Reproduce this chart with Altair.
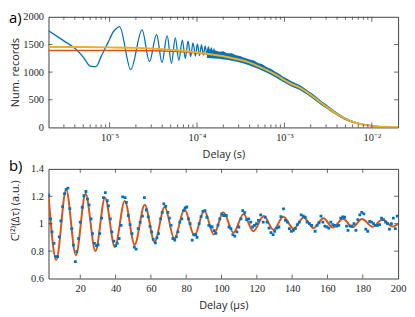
import altair as alt
import pandas as pd

# ---------------- panel a : raw records vs delay (log axis) ----------------
blue_t = [2e-6, 3e-6, 4e-6, 5e-6, 6e-6, 7e-6, 8e-6, 9e-6, 10e-6, 11e-6, 12e-6, 13e-6,
          17.5e-6, 23.5e-6, 28.6e-6, 34.5e-6, 39.8e-6, 45.5e-6, 51e-6, 56.5e-6, 62e-6,
          68e-6, 73.5e-6, 79e-6, 84.6e-6, 90e-6, 96e-6, 101e-6, 107e-6, 112.5e-6,
          118e-6, 124e-6, 130e-6, 135e-6, 141e-6, 146e-6, 152e-6, 157e-6]
blue_v = [1751, 1565, 1430, 1270, 1110, 1100, 1280, 1447, 1593, 1727, 1790, 1822,
          1045, 1765, 1190, 1680, 1170, 1660, 1160, 1620, 1210,
          1580, 1250, 1560, 1280, 1530, 1290, 1510, 1300, 1490,
          1310, 1470, 1320, 1455, 1325, 1440, 1330, 1425]

band_t = [1.3e-4, 1.45e-4, 1.6e-4, 1.8e-4, 2.0e-4, 2.2e-4, 2.5e-4, 2.8e-4, 3.1e-4, 3.5e-4,
          4.0e-4, 4.5e-4, 5.0e-4, 5.6e-4, 6.3e-4, 7.0e-4, 7.8e-4, 8.7e-4, 9.7e-4, 1.08e-3,
          1.2e-3, 1.35e-3, 1.5e-3, 1.7e-3, 1.9e-3, 2.1e-3, 2.4e-3, 2.7e-3, 3.0e-3, 3.4e-3,
          3.8e-3, 4.3e-3, 4.9e-3, 5.6e-3, 6.5e-3, 7.5e-3, 8.8e-3, 1.05e-2, 1.3e-2, 1.65e-2, 2.0e-2]
band_hi = [1420, 1400, 1395, 1370, 1375, 1340, 1340, 1305, 1290, 1260,
           1230, 1210, 1165, 1140, 1090, 1060, 1010, 970, 918, 880,
           835, 800, 765, 710, 655, 608, 535, 470, 418, 352,
           298, 240, 186, 140, 104, 76, 53, 37, 22, 14, 10]
band_lo = [1255, 1250, 1245, 1240, 1230, 1222, 1205, 1190, 1172, 1150,
           1120, 1090, 1062, 1025, 990, 950, 912, 868, 820, 780,
           740, 708, 675, 622, 572, 525, 455, 393, 345, 285,
           236, 183, 136, 98, 66, 45, 28, 16, 6, 1, 0]

fit_t = [2e-6, 5e-6, 1e-5, 2e-5, 4e-5, 7e-5, 1e-4, 1.5e-4, 2.29e-4, 3e-4, 4e-4, 5.46e-4,
         7e-4, 8.4e-4, 1e-3, 1.2e-3, 1.48e-3, 1.77e-3, 2.2e-3, 2.72e-3, 3.3e-3, 4.2e-3,
         5.2e-3, 6.5e-3, 8e-3, 1e-2, 1.4e-2, 2e-2]
fit_v = [1455, 1452, 1447, 1438, 1415, 1385, 1355, 1318, 1270, 1228, 1172, 1080,
         1000, 932, 855, 785, 724, 647, 540, 427, 330, 220,
         140, 84, 50, 28, 11, 4]

fit2_t = [2e-6, 1e-5, 3e-5, 6e-5, 1e-4, 1.5e-4, 2.29e-4, 3e-4]
fit2_v = [1392, 1390, 1386, 1372, 1348, 1318, 1270, 1228]

xa_major = [1e-5, 1e-4, 1e-3, 1e-2]
xa_minor = [3e-6, 4e-6, 5e-6, 6e-6, 7e-6, 8e-6, 9e-6,
            2e-5, 3e-5, 4e-5, 5e-5, 6e-5, 7e-5, 8e-5, 9e-5,
            2e-4, 3e-4, 4e-4, 5e-4, 6e-4, 7e-4, 8e-4, 9e-4,
            2e-3, 3e-3, 4e-3, 5e-3, 6e-3, 7e-3, 8e-3, 9e-3]
ya_ticks = [0, 500, 1000, 1500, 2000]

# ---------------- panel b : normalised correlation vs delay ----------------
pts_t = [2.1, 3.1, 4.0, 5.1, 6.2, 7.2, 8.1, 9.0, 10.0, 11.1, 12.0, 13.0, 14.1, 15.2, 16.1,
         17.2, 18.0, 19.1, 20.0, 21.1, 22.1, 23.2, 24.1, 25.0, 26.1, 26.9, 28.0, 29.2, 30.1,
         31.0, 32.1, 33.1, 34.2, 35.3, 36.0, 37.0, 37.9, 39.0, 40.0, 40.9, 42.0, 43.1, 44.0,
         45.4, 46.1, 47.2, 48.2, 49.3, 50.6, 51.6, 52.8, 53.9, 55.2, 56.3, 57.4, 58.5, 59.5,
         60.4, 61.3, 62.5, 63.4, 64.3, 65.5, 66.4, 67.3, 68.4, 69.6, 70.5, 71.4, 72.5, 73.5,
         74.4, 75.3, 76.4, 77.5, 78.5, 79.4, 80.3, 81.3, 82.2, 83.4, 84.3, 85.4, 86.1, 87.3,
         88.4, 89.5, 90.6, 91.7, 92.8, 93.7, 94.7, 95.8, 96.8, 98.0, 99.0, 100.1, 101.2,
         102.7, 104.2, 105.3, 106.4, 107.5, 108.7, 109.8, 111.0, 112.0, 113.1, 114.2, 115.4,
         116.5, 117.6, 118.7, 119.8, 120.9, 122.2, 123.6, 124.7, 125.8, 126.9, 128.0, 129.2,
         130.1, 131.4, 132.5, 133.6, 135.1, 136.2, 137.3, 138.4, 139.6, 140.7, 141.8, 142.9,
         144.0, 145.1, 146.3, 147.4, 148.5, 149.8, 151.1, 153.0, 154.1, 155.2, 156.3, 157.4,
         158.5, 159.7, 160.8, 161.9, 163.0, 164.1, 165.3, 166.4, 167.5, 168.6, 169.7, 170.8,
         171.6, 172.7, 173.9, 175.0, 176.1, 177.2, 178.3, 179.4, 180.6, 181.7, 182.8, 183.9,
         185.0, 186.1, 187.3, 188.4, 189.5, 190.6, 191.7, 192.9, 194.0, 195.1, 196.2, 197.3,
         198.4, 199.5]
pts_v = [1.21, 1.036, 0.94, 0.856, 0.76, 0.76, 0.904, 1.02, 1.125, 1.22, 1.25, 1.26, 1.11, 0.964, 0.844,
         0.724, 0.796, 0.892, 1.012, 1.12, 1.204, 1.235, 1.18, 1.137, 1.036, 0.928, 0.856, 0.84, 0.845,
         0.928, 1.04, 1.19, 1.227, 1.168, 1.13, 1.036, 0.94, 0.873, 0.84, 0.856, 0.892, 0.988, 1.196,
         1.19, 1.155, 1.06, 0.993, 0.928, 0.83, 0.815, 0.964, 1.01, 1.055, 1.19, 1.10, 1.05, 0.98,
         0.94, 0.885, 0.86, 0.897, 0.928, 1.036, 1.083, 1.144, 1.127, 1.083, 1.04, 0.988, 0.892, 0.88,
         0.904, 0.94, 1.012, 1.036, 1.096, 1.115, 1.122, 1.036, 1.0, 0.88, 0.92, 0.92, 0.9, 1.0,
         1.052, 1.09, 1.096, 1.047, 0.988, 0.983, 0.976, 0.95, 0.93, 0.99, 1.036, 1.072, 1.06,
         1.06, 0.976, 0.964, 0.92, 0.91, 0.94, 0.976, 1.036, 1.096, 1.08, 1.03, 1.036,
         1.012, 0.976, 0.988, 1.0, 1.024, 1.065, 1.012, 1.047, 1.012, 0.968, 0.935, 0.92,
         0.945, 0.968, 0.976, 1.052, 1.108, 1.024, 1.012, 0.964, 0.945, 0.952, 0.964, 0.993,
         1.012, 1.065, 1.055, 1.047, 1.012, 1.0, 0.988, 0.945, 0.988, 1.007, 1.055, 1.012,
         0.983, 0.976, 0.968, 1.012, 0.993, 0.988, 0.983, 0.988, 1.04, 1.05, 1.047, 0.983,
         0.952, 0.983, 0.983, 1.0, 0.952, 1.03, 1.065, 1.083, 1.072, 0.96, 0.945, 1.016,
         1.012, 1.0, 0.988, 0.988, 0.993, 1.04, 1.03, 1.012, 1.0, 0.96, 1.0, 1.04,
         0.964, 1.055]

fitb_t = [2.0, 6.4, 12.0, 17.5, 23.0, 28.6, 34.0, 39.6, 45.2, 50.8, 56.5, 62.1, 67.8, 73.3,
          79.0, 84.6, 90.2, 95.6, 101.0, 106.8, 112.4, 118.0, 123.9, 129.4, 135.0, 140.8,
          146.5, 152.0, 157.7, 163.0, 168.8, 174.2, 179.6, 185.5, 191.2, 196.8, 200.0]
fitb_v = [1.21, 0.735, 1.25, 0.77, 1.218, 0.80, 1.19, 0.83, 1.166, 0.848, 1.138, 0.868, 1.122, 0.89,
          1.108, 0.912, 1.096, 0.922, 1.083, 0.935, 1.07, 0.945, 1.056, 0.955, 1.05, 0.963,
          1.045, 0.968, 1.04, 0.972, 1.037, 0.975, 1.034, 0.978, 1.03, 0.98, 0.998]

xb_ticks = [20, 40, 60, 80, 100, 120, 140, 160, 180, 200]
yb_ticks = [0.6, 0.8, 1.0, 1.2, 1.4]
panel_labels = ["a)", "b)"]

# ---------------- styling ----------------
SERIF = "Liberation Serif"
SANS = "Open Sans"
TXT = "#262626"
FRAME = "#404040"
BLUE = "#0072BD"
ORANGE = "#EDB120"
RED = "#D95319"
W, HA, HB = 354, 112, 111

common = dict(ticks=False, domain=False, grid=False, labelFont=SERIF, labelFontSize=10.5,
              labelColor=TXT, labelFlush=False, labelOverlap=False, titleFont=SANS,
              titleFontSize=11, titleFontWeight="normal", titleColor=TXT, labelPadding=5)

xs_a = alt.Scale(type="log", domain=[2e-6, 2e-2], nice=False)
ys_a = alt.Scale(domain=[0, 2000], nice=False, zero=False)
xs_b = alt.Scale(domain=[2, 200], nice=False, zero=False)
ys_b = alt.Scale(domain=[0.6, 1.4], nice=False, zero=False)

ax_a = alt.Axis(title="Delay (s)", values=xa_major, titleY=21,
                labelExpr="'10' + (datum.value < 0.00005 ? '⁻⁵' : datum.value < 0.0005 ? '⁻⁴' : datum.value < 0.005 ? '⁻³' : '⁻²')",
                **common)
ay_a = alt.Axis(title="Num. records", values=ya_ticks, format="d", titleX=-28, **common)
ax_b = alt.Axis(title="Delay (µs)", values=xb_ticks, format="d", titleY=21, **common)
ay_b = alt.Axis(title="C⁽²⁾(Δτ) (a.u.)", values=yb_ticks, format="~g", titleX=-28, titleY=42, **common)

XA = lambda: alt.X("x:Q", scale=xs_a, axis=ax_a)
YA = lambda: alt.Y("y:Q", scale=ys_a, axis=ay_a)
XB = lambda: alt.X("x:Q", scale=xs_b, axis=ax_b)
YB = lambda: alt.Y("y:Q", scale=ys_b, axis=ay_b)


def xticks(vals, X, H, L):
    d = pd.DataFrame({"x": vals})
    bot = alt.Chart(d).mark_rule(color=FRAME, strokeWidth=0.8).encode(
        x=X(), y=alt.value(H), y2=alt.value(H - L))
    top = alt.Chart(d).mark_rule(color=FRAME, strokeWidth=0.8).encode(
        x=X(), y=alt.value(0), y2=alt.value(L))
    return [bot, top]


def yticks(vals, Y, L):
    d = pd.DataFrame({"y": vals})
    lft = alt.Chart(d).mark_rule(color=FRAME, strokeWidth=0.8).encode(
        y=Y(), x=alt.value(0), x2=alt.value(L))
    rgt = alt.Chart(d).mark_rule(color=FRAME, strokeWidth=0.8).encode(
        y=Y(), x=alt.value(W), x2=alt.value(W - L))
    return [lft, rgt]


band = alt.Chart(pd.DataFrame({"x": band_t, "y": band_lo, "y2": band_hi})).mark_area(
    color=BLUE, clip=True).encode(x=XA(), y=YA(), y2="y2:Q")
blue_line = alt.Chart(pd.DataFrame({"x": blue_t, "y": blue_v})).mark_line(
    color=BLUE, strokeWidth=1.3, interpolate="monotone", clip=True).encode(x=XA(), y=YA())
red_line = alt.Chart(pd.DataFrame({"x": fit2_t, "y": fit2_v})).mark_line(
    color=RED, strokeWidth=1.6, interpolate="monotone", clip=True).encode(x=XA(), y=YA())
orange_line = alt.Chart(pd.DataFrame({"x": fit_t, "y": fit_v})).mark_line(
    color=ORANGE, strokeWidth=2, interpolate="monotone", clip=True).encode(x=XA(), y=YA())
text_a = alt.Chart(pd.DataFrame({"t": [panel_labels[0]]})).mark_text(
    font=SANS, fontSize=15, align="left", baseline="top", color="black").encode(
    text="t:N", x=alt.value(-40), y=alt.value(-6))

panel_a = alt.layer(
    band, blue_line, red_line, orange_line,
    *xticks(xa_major, XA, HA, 5), *xticks(xa_minor, XA, HA, 3),
    *yticks(ya_ticks[1:-1], YA, 4), text_a,
).properties(width=W, height=HA)

fitb = alt.Chart(pd.DataFrame({"x": fitb_t, "y": fitb_v})).mark_line(
    color=RED, strokeWidth=2, interpolate="monotone", clip=True).encode(x=XB(), y=YB())
dots = alt.Chart(pd.DataFrame({"x": pts_t, "y": pts_v})).mark_square(
    color=BLUE, size=8, opacity=1, clip=True).encode(x=XB(), y=YB())
text_b = alt.Chart(pd.DataFrame({"t": [panel_labels[1]]})).mark_text(
    font=SANS, fontSize=15, align="left", baseline="top", color="black").encode(
    text="t:N", x=alt.value(-40), y=alt.value(-10))

panel_b = alt.layer(
    fitb, dots,
    *xticks(xb_ticks[:-1], XB, HB, 4), *yticks(yb_ticks[1:-1], YB, 4), text_b,
).properties(width=W, height=HB)

chart = alt.vconcat(panel_a, panel_b, spacing=42, bounds="flush").properties(
    padding=0, background="white"
).configure_view(stroke=FRAME, strokeWidth=1)

chart.save("out.html", embed_options={"renderer": "svg", "actions": False})
